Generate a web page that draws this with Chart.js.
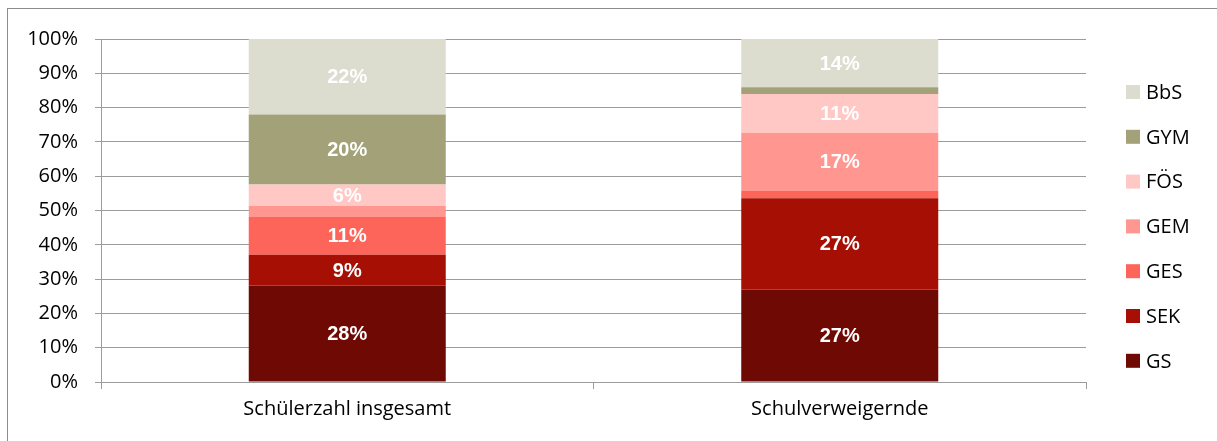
<!DOCTYPE html>
<html>
<head>
<meta charset="utf-8">
<script src="https://cdn.jsdelivr.net/npm/chart.js@4.4.1/dist/chart.umd.min.js"></script>
<style>
  html, body { margin: 0; padding: 0; background: #fff; overflow: hidden; }
  #wrap { position: relative; width: 1217px; height: 441px; }
  #frame { position: absolute; left: 7px; top: 8px; width: 1300px; height: 500px; border-left: 1px solid #8c8c8c; border-top: 1px solid #8c8c8c; }
  canvas { position: absolute; left: 0; top: 0; }
</style>
</head>
<body>
<div id="wrap">
  <div id="frame"></div>
  <canvas id="c" width="1217" height="441"></canvas>
</div>
<script>
const categories = ['Schülerzahl insgesamt', 'Schulverweigernde'];
const seriesNames = ['GS', 'SEK', 'GES', 'GEM', 'FÖS', 'GYM', 'BbS'];
const GS  = [28.1, 27.0];
const SEK = [9.0, 26.6];
const GES = [11.0, 2.1];
const GEM = [3.3, 17.0];
const FOS = [6.2, 11.3];
const GYM = [20.4, 1.9];
const BbS = [22.0, 14.1];
const yTicks = [0, 10, 20, 30, 40, 50, 60, 70, 80, 90, 100];

const seriesValues = [GS, SEK, GES, GEM, FOS, GYM, BbS];
const colors = ['#6f0904', '#a61004', '#fe655a', '#ff9690', '#ffc8c5', '#a2a178', '#dcdccf'];

const datasets = seriesNames.map((n, i) => ({
  label: n,
  data: seriesValues[i],
  backgroundColor: colors[i],
  borderWidth: 0,
  barPercentage: 0.4,
  categoryPercentage: 1.0
}));

const labelPlugin = {
  id: 'segLabels',
  afterDatasetsDraw(chart) {
    const ctx = chart.ctx;
    ctx.save();
    ctx.fillStyle = '#ffffff';
    ctx.font = 'bold 20px "Liberation Sans", Arial, sans-serif';
    ctx.textAlign = 'center';
    ctx.textBaseline = 'middle';
    chart.data.datasets.forEach((ds, di) => {
      const meta = chart.getDatasetMeta(di);
      meta.data.forEach((bar, i) => {
        const v = ds.data[i];
        if (v >= 5) {
          const y = (bar.y + bar.base) / 2;
          ctx.fillText(Math.round(v) + '%', bar.x, y + 1);
        }
      });
    });
    ctx.restore();
  }
};

const legendPlugin = {
  id: 'sideLegend',
  afterDraw(chart) {
    const ctx = chart.ctx;
    ctx.save();
    ctx.font = '20px "Open Sans", sans-serif';
    ctx.textBaseline = 'middle';
    ctx.textAlign = 'left';
    const ds = chart.data.datasets;
    const n = ds.length;
    const startY = 92, step = 44.8, boxX = 1126, box = 14;
    for (let k = 0; k < n; k++) {
      const d = ds[n - 1 - k];
      const cy = startY + k * step;
      ctx.fillStyle = d.backgroundColor;
      ctx.fillRect(boxX, cy - box / 2, box, box);
      ctx.fillStyle = '#000000';
      ctx.fillText(d.label, boxX + box + 6, cy + 1);
    }
    ctx.restore();
  }
};

new Chart(document.getElementById('c'), {
  type: 'bar',
  data: { labels: categories, datasets: datasets },
  options: {
    responsive: false,
    animation: false,
    layout: { padding: { top: 39, right: 131, left: 0, bottom: 0 } },
    plugins: { legend: { display: false }, tooltip: { enabled: false } },
    scales: {
      x: {
        stacked: true,
        grid: { offset: true, drawOnChartArea: false, drawTicks: true, tickLength: 7, color: '#9c9c9c', lineWidth: 1 },
        border: { color: '#9c9c9c', width: 1 },
        ticks: { color: '#000', font: { family: '"Open Sans", sans-serif', size: 20 }, padding: 8 },
        afterFit(s) { s.height = 441 - 382; }
      },
      y: {
        stacked: true,
        min: 0, max: 100,
        afterBuildTicks(s) { s.ticks = yTicks.map(v => ({ value: v })); },
        grid: { color: '#9c9c9c', lineWidth: 1, tickLength: 6 },
        border: { color: '#9c9c9c', width: 1 },
        ticks: { color: '#000', font: { family: '"Open Sans", sans-serif', size: 20 }, padding: 17, callback: v => v + '%' },
        afterFit(s) { s.width = 101; }
      }
    }
  },
  plugins: [labelPlugin, legendPlugin]
});
</script>
</body>
</html>
